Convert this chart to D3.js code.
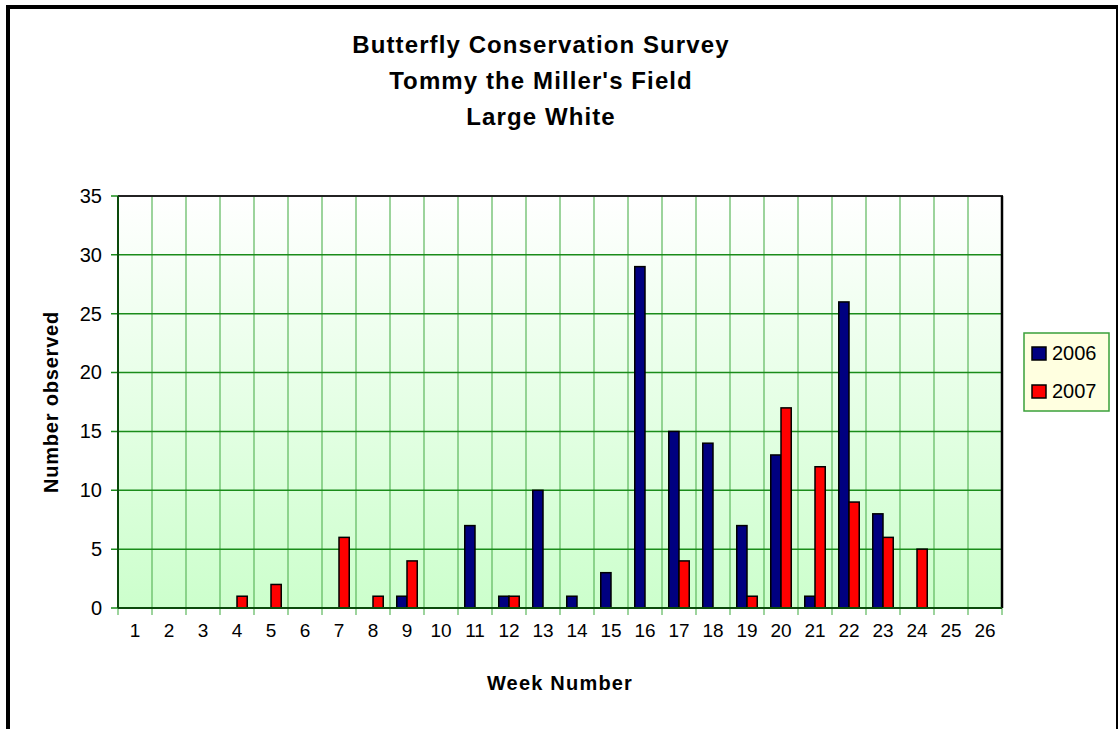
<!DOCTYPE html>
<html>
<head>
<meta charset="utf-8">
<script src="https://cdn.jsdelivr.net/npm/d3@7"></script>
<style>
  body { margin: 0; background: #fff; }
  svg { font-family: "Liberation Sans", Arial, sans-serif; }
</style>
</head>
<body>
<div id="chart"></div>
<script>
// data
const weeks = d3.range(1, 27).map(String)
const series = ['2006', '2007']
const values2006 = [0, 0, 0, 0, 0, 0, 0, 0, 1, 0, 7, 1, 10, 1, 3, 29, 15, 14, 7, 13, 1, 26, 8, 0, 0, 0]
const values2007 = [0, 0, 0, 1, 2, 0, 6, 1, 4, 0, 0, 1, 0, 0, 0, 0, 4, 0, 1, 17, 12, 9, 6, 5, 0, 0]
const yTicks = [0, 5, 10, 15, 20, 25, 30, 35]
const titleLines = ['Butterfly Conservation Survey', "Tommy the Miller's Field", 'Large White']
const colors = { '2006': '#000080', '2007': '#ff0000' }

const rows = weeks.map((w, i) => ({ week: w, '2006': values2006[i], '2007': values2007[i] }))

const width = 1119
const height = 729
const plot = { left: 118, top: 196, right: 1002, bottom: 608 }

const svg = d3.select('#chart')
  .append('svg')
  .attr('width', width)
  .attr('height', height)

// outer chart frame
svg.append('line').attr('x1', 8).attr('x2', 8).attr('y1', 5).attr('y2', height)
  .attr('stroke', '#000').attr('stroke-width', 4)
svg.append('line').attr('x1', 6).attr('x2', 1118).attr('y1', 7).attr('y2', 7)
  .attr('stroke', '#000').attr('stroke-width', 4)
svg.append('line').attr('x1', 1117).attr('x2', 1117).attr('y1', 5).attr('y2', height)
  .attr('stroke', '#000').attr('stroke-width', 2)

// title
svg.append('g')
  .selectAll('text')
  .data(titleLines)
  .join('text')
  .attr('x', 541)
  .attr('y', (d, i) => 53 + i * 36)
  .attr('text-anchor', 'middle')
  .attr('font-size', 24)
  .attr('font-weight', 'bold')
  .attr('letter-spacing', 1.1)
  .text(d => d)

// scales
const xScale = d3.scaleBand()
  .domain(weeks)
  .range([plot.left, plot.right])

const xInner = d3.scaleBand()
  .domain(series)
  .range([0, xScale.bandwidth()])
  .paddingOuter(0.66)

const yScale = d3.scaleLinear()
  .domain([0, 35])
  .range([plot.bottom, plot.top])

// plot background gradient
const grad = svg.append('defs').append('linearGradient')
  .attr('id', 'bg').attr('x1', 0).attr('x2', 0).attr('y1', 0).attr('y2', 1)
grad.append('stop').attr('offset', '0%').attr('stop-color', '#ffffff')
grad.append('stop').attr('offset', '100%').attr('stop-color', '#ccffcc')

svg.append('rect')
  .attr('x', plot.left).attr('y', plot.top)
  .attr('width', plot.right - plot.left).attr('height', plot.bottom - plot.top)
  .attr('fill', 'url(#bg)')

// vertical grid lines (category boundaries) with ticks below the axis
const boundaries = weeks.map(w => xScale(w)).concat([plot.right])
svg.append('g')
  .selectAll('line')
  .data(boundaries)
  .join('line')
  .attr('x1', d => d).attr('x2', d => d)
  .attr('y1', plot.top).attr('y2', plot.bottom + 7)
  .attr('stroke', '#5cb85c').attr('stroke-opacity', 0.8).attr('stroke-width', 1.5)

// horizontal grid lines
svg.append('g')
  .selectAll('line')
  .data(yTicks)
  .join('line')
  .attr('x1', plot.left - 7).attr('x2', plot.right)
  .attr('y1', d => yScale(d)).attr('y2', d => yScale(d))
  .attr('stroke', '#1a8c1a').attr('stroke-width', 1.5)

// y axis labels
const yAxis = d3.axisLeft(yScale).tickValues(yTicks).tickSize(0).tickPadding(16)
svg.append('g')
  .attr('transform', `translate(${plot.left},0)`)
  .call(yAxis)
  .call(g => g.select('.domain').remove())
  .call(g => g.selectAll('text').attr('font-size', 20).attr('fill', '#000')
    .attr('font-family', '"Liberation Sans", Arial, sans-serif'))

// x axis labels
const xAxis = d3.axisBottom(xScale).tickSize(0).tickPadding(16)
svg.append('g')
  .attr('transform', `translate(0,${plot.bottom})`)
  .call(xAxis)
  .call(g => g.select('.domain').remove())
  .call(g => g.selectAll('text').attr('font-size', 19).attr('fill', '#000')
    .attr('font-family', '"Liberation Sans", Arial, sans-serif'))

// bars
svg.append('g')
  .selectAll('g')
  .data(rows)
  .join('g')
  .attr('transform', d => `translate(${xScale(d.week)},0)`)
  .selectAll('rect')
  .data(d => series.map(s => ({ key: s, value: d[s] })).filter(e => e.value > 0))
  .join('rect')
  .attr('x', d => xInner(d.key))
  .attr('width', xInner.bandwidth())
  .attr('y', d => yScale(d.value))
  .attr('height', d => yScale(0) - yScale(d.value))
  .attr('fill', d => colors[d.key])
  .attr('stroke', '#000')
  .attr('stroke-width', 1.5)

// plot frame: top and right in black, axes in dark green
svg.append('line').attr('x1', plot.left).attr('x2', plot.right + 1)
  .attr('y1', plot.top).attr('y2', plot.top).attr('stroke', '#222').attr('stroke-width', 2)
svg.append('line').attr('x1', plot.right).attr('x2', plot.right)
  .attr('y1', plot.top).attr('y2', plot.bottom).attr('stroke', '#000').attr('stroke-width', 2.5)
svg.append('line').attr('x1', plot.left).attr('x2', plot.left)
  .attr('y1', plot.top).attr('y2', plot.bottom).attr('stroke', '#0b4a0b').attr('stroke-width', 2)
svg.append('line').attr('x1', plot.left).attr('x2', plot.right)
  .attr('y1', plot.bottom).attr('y2', plot.bottom).attr('stroke', '#0b4a0b').attr('stroke-width', 2)

// axis titles
svg.append('text')
  .attr('x', 560).attr('y', 690)
  .attr('text-anchor', 'middle')
  .attr('font-size', 20).attr('font-weight', 'bold')
  .attr('letter-spacing', 1.2)
  .text('Week Number')

svg.append('text')
  .attr('transform', `translate(58,${(plot.top + plot.bottom) / 2}) rotate(-90)`)
  .attr('text-anchor', 'middle')
  .attr('font-size', 20).attr('font-weight', 'bold')
  .attr('letter-spacing', 0.8)
  .text('Number observed')

// legend
const legend = svg.append('g').attr('transform', 'translate(1024,333)')
legend.append('rect')
  .attr('width', 85).attr('height', 78)
  .attr('fill', '#ffffe0').attr('stroke', '#3aa03a').attr('stroke-width', 1.5)
const item = legend.selectAll('g')
  .data(series)
  .join('g')
  .attr('transform', (d, i) => `translate(8,${14 + i * 38})`)
item.append('rect')
  .attr('width', 14).attr('height', 13)
  .attr('fill', d => colors[d]).attr('stroke', '#000').attr('stroke-width', 1.5)
item.append('text')
  .attr('x', 20).attr('y', 13)
  .attr('font-size', 20)
  .text(d => d)
</script>
</body>
</html>
